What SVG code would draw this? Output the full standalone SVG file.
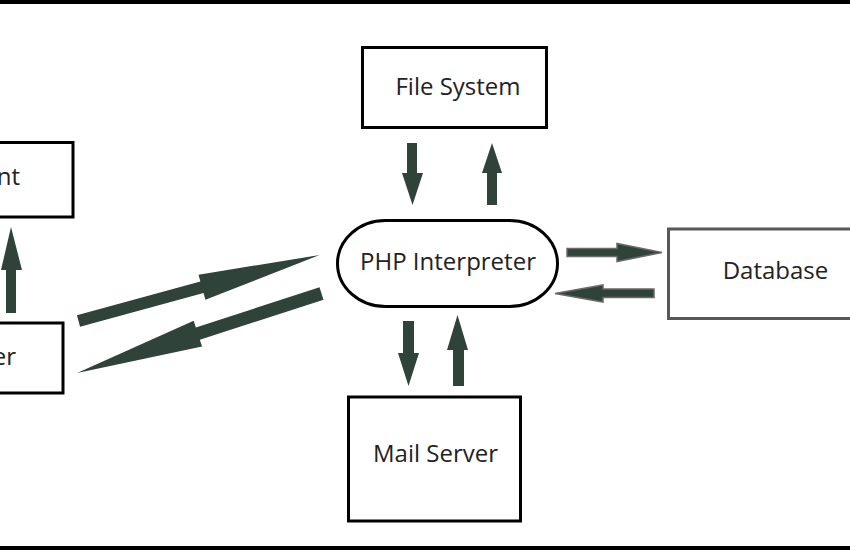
<svg xmlns="http://www.w3.org/2000/svg" width="850" height="550" viewBox="0 0 850 550">
  <style>
    .box { fill: #ffffff; stroke: #000000; stroke-width: 3; }
    .gbox { fill: #ffffff; stroke: #585858; stroke-width: 3; }
    .lbl { font-family: "Open Sans", "Noto Sans", "DejaVu Sans", sans-serif; font-size: 24px; fill: #222222; }
    .arr { fill: #2f433a; stroke: none; }
    .garr { fill: #2f433a; stroke: #6a6a6a; stroke-width: 1.5; }
  </style>
  <rect x="0" y="0" width="850" height="550" fill="#ffffff"/>
  <rect x="0" y="0" width="850" height="4" fill="#000000"/>
  <rect x="0" y="546" width="850" height="4" fill="#000000"/>

  <g id="client">
    <rect class="box" x="-100" y="142.5" width="173" height="74.5"/>
    <text class="lbl" x="20" y="185" text-anchor="end">nt</text>
  </g>
  <g id="server">
    <rect class="box" x="-100" y="323" width="163" height="70"/>
    <text class="lbl" x="16" y="365" text-anchor="end">er</text>
  </g>
  <g id="filesystem">
    <rect class="box" x="362.5" y="47.5" width="184" height="80"/>
    <text class="lbl" x="458" y="95" text-anchor="middle">File System</text>
  </g>
  <g id="php">
    <rect class="box" x="337.5" y="220.5" width="220" height="86" rx="48" ry="43"/>
    <text class="lbl" x="448" y="270" text-anchor="middle">PHP Interpreter</text>
  </g>
  <g id="database">
    <rect class="gbox" x="668.5" y="229" width="200" height="89.5"/>
    <text class="lbl" x="775.5" y="279" text-anchor="middle">Database</text>
  </g>
  <g id="mailserver">
    <rect class="box" x="348.5" y="397" width="172" height="124"/>
    <text class="lbl" x="435.5" y="462" text-anchor="middle">Mail Server</text>
  </g>

  <g id="connectors">
    <!-- Server -> Client (up) -->
    <polygon class="arr" points="6,313 16,313 16,270 22,270 11,227 1,270 6,270"/>
    <!-- File System -> PHP (down) -->
    <polygon class="arr" points="407,143 417,143 417,173 423,173 412.5,205 402,173 407,173"/>
    <!-- PHP -> File System (up) -->
    <polygon class="arr" points="487,205 497,205 497,173 502,173 492,143 482,173 487,173"/>
    <!-- PHP -> Mail Server (down) -->
    <polygon class="arr" points="403,321 414,321 414,353 419,353 408.5,386 398,353 403,353"/>
    <!-- Mail Server -> PHP (up) -->
    <polygon class="arr" points="453,386 464,386 464,350 468,350 457.5,315 447,350 453,350"/>
    <!-- Server -> PHP (diagonal up) -->
    <polygon class="arr" transform="translate(78.5,321) rotate(-15.3)" points="0,-6 128,-6 128,-13 250,0 128,13 128,6 0,6"/>
    <!-- PHP -> Server (diagonal down) -->
    <polygon class="arr" transform="translate(321.5,293.5) rotate(162)" points="0,-6.5 130,-6.5 130,-13.5 257,0 130,13.5 130,6.5 0,6.5"/>
    <!-- PHP -> Database -->
    <polygon class="garr" points="567,248.5 617,248.5 617,243.5 662,252.5 617,261.5 617,256.5 567,256.5"/>
    <!-- Database -> PHP -->
    <polygon class="garr" points="654,289 603,289 603,285 555,293.5 603,302 603,297.5 654,297.5"/>
  </g>
</svg>
